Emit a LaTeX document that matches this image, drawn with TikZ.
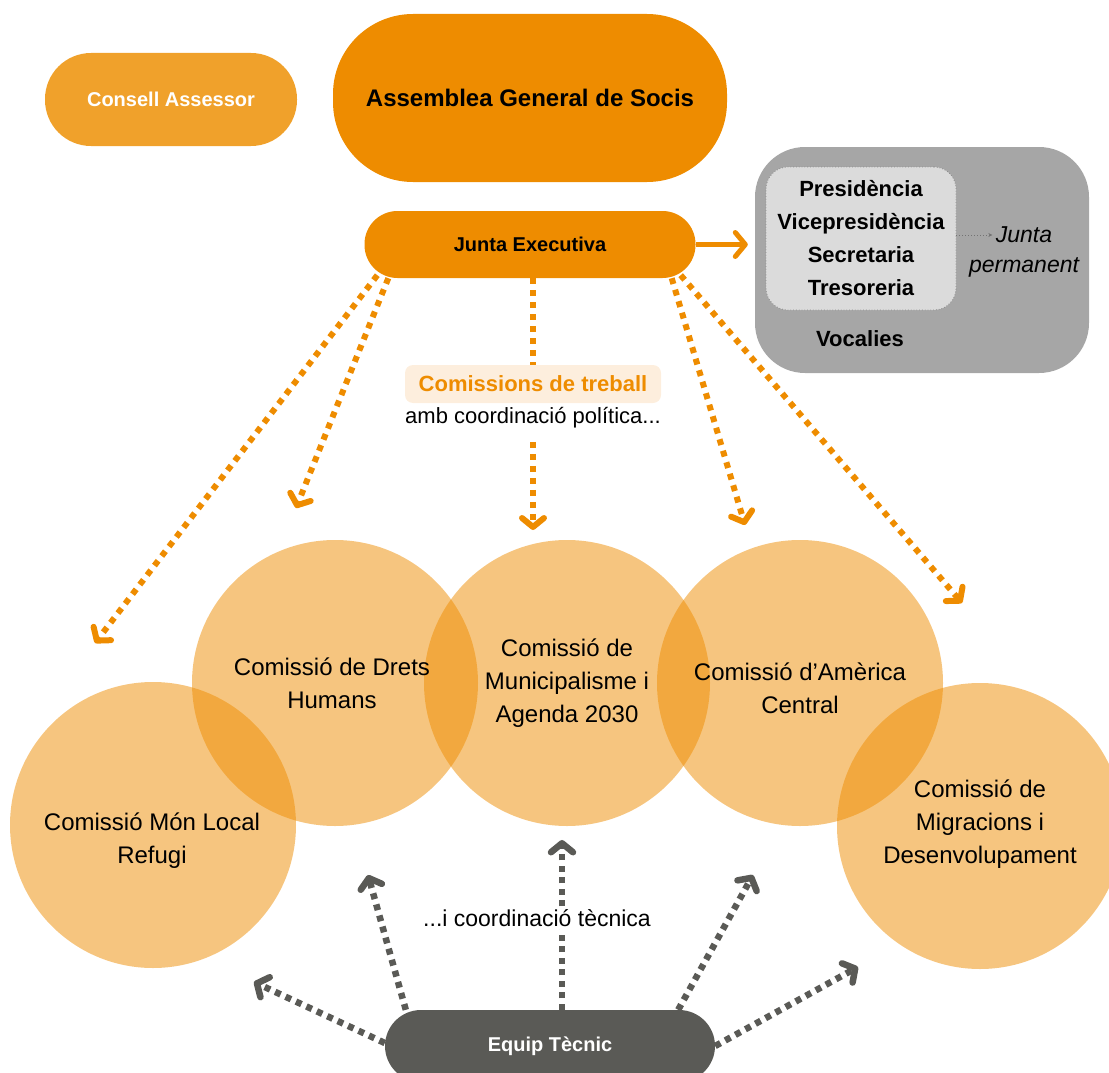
\documentclass[tikz,border=0pt]{standalone}
\usepackage{fontspec}
\setmainfont{Liberation Sans}
\usetikzlibrary{arrows.meta,calc}
\definecolor{orA}{HTML}{EE8C00}
\definecolor{orB}{HTML}{F0A12B}
\definecolor{grBox}{HTML}{A6A6A6}
\definecolor{grIn}{HTML}{DBDBDB}
\definecolor{grDark}{HTML}{5A5A56}
\definecolor{orBg}{HTML}{FDEEDD}
\newcommand{\fsz}[2]{\fontsize{#1pt}{#2pt}\selectfont}
\begin{document}
\begin{tikzpicture}[x=1pt,y=-1pt,
  pill/.style={rectangle, inner sep=0pt, align=center},
  comm/.style={circle, minimum size=286pt, inner sep=0pt, fill=orA, fill opacity=0.5, draw=none},
  ctext/.style={align=center, font=\fsz{24}{33}, text=black},
  otip/.style={-{Straight Barb[length=9pt,width=22pt,line cap=round,round]}},
  odot/.style={orA, line width=6pt, dash pattern=on 6pt off 6pt},
  gdot/.style={grDark, line width=6.5pt, dash pattern=on 6pt off 5.5pt, -{Straight Barb[length=9pt,width=22pt,line cap=round,round]}},
]
\useasboundingbox (0,0) rectangle (1109,1073);

% circles
\node[comm] (c1) at (153,825) {};
\node[comm] (c2) at (335,683) {};
\node[comm] (c3) at (567,683) {};
\node[comm] (c4) at (800,683) {};
\node[comm] (c5) at (980,826) {};
\node[ctext] (t1) at (152,841) {Comissió Món Local\\Refugi};
\node[ctext] (t2) at (332,683) {Comissió de Drets\\Humans};
\node[ctext] (t3) at (567,683) {Comissió de\\Municipalisme i\\Agenda 2030};
\node[ctext] (t4) at (800,688) {Comissió d’Amèrica\\Central};
\node[ctext] (t5) at (980,824) {Comissió de\\Migracions i\\Desenvolupament};

% top boxes
\node[pill, minimum width=252pt, minimum height=93pt, rounded corners=46pt, fill=orB, text=white, font=\bfseries\fsz{20}{24}] (consell) at (171,99.5) {Consell Assessor};
\node[pill, minimum width=394pt, minimum height=168pt, rounded corners=80pt, fill=orA, text=black, font=\bfseries\fsz{24}{29}] (assemblea) at (530,98) {Assemblea General de Socis};
\node[pill, minimum width=331pt, minimum height=67pt, rounded corners=33pt, fill=orA, text=black, font=\bfseries\fsz{20}{24}] (junta) at (530,244.5) {Junta Executiva};

% gray box
\node[pill, minimum width=334pt, minimum height=226pt, rounded corners=50pt, fill=grBox] (vocal) at (922,260) {};
\node[pill, minimum width=190pt, minimum height=143pt, rounded corners=22pt, fill=grIn, draw=black!45, dotted, line width=0.8pt, font=\bfseries\fsz{22}{33}] (perm) at (861,238.5) {Presidència\\Vicepresidència\\Secretaria\\Tresoreria};
\node[font=\itshape\fsz{23}{32}] (jt) at (1024,235) {Junta};
\node[font=\itshape\fsz{23}{32}] (jp) at (1024,267) {permanent};
\node[font=\bfseries\fsz{22}{28}] (voc) at (860,339) {Vocalies};
\draw[black!55, dotted, line width=1pt, -{Stealth[length=4pt,width=4pt]}] (perm.east |- jt.west) -- (jt.west);

\draw[orA, line width=5pt, -{Straight Barb[length=10pt,width=24pt,line cap=round,round]}, shorten >=7pt] (junta.east) -- (junta.east -| vocal.west);

% orange dotted arrows
\coordinate (o1) at (95,643);
\coordinate (o2) at (296,508);
\coordinate (o3) at (533,530);
\coordinate (o4) at (745,525);
\coordinate (o5) at (962,603);
\node[pill, fill=orBg, rounded corners=8pt, minimum width=256pt, minimum height=38pt, text=orA, font=\bfseries\fsz{22}{26}] (ctreb) at (533,384) {Comissions de treball};
\node[font=\fsz{22}{26}] (amb) at (533,418) {amb coordinació política...};
\draw[odot, otip] ([xshift=13pt,yshift=3pt]junta.south west) -- (o1);
\draw[odot, otip] ([xshift=24pt]junta.south west) -- (o2);
\draw[odot] (junta.south -| ctreb.north) -- (ctreb.north);
\draw[odot, otip, shorten <=10pt] (amb.south) -- (o3);
\draw[odot, otip] ([xshift=-24pt]junta.south east) -- (o4);
\draw[odot, otip] ([xshift=-15pt,yshift=3pt]junta.south east) -- (o5);

% equip tecnic
\node[pill, minimum width=330pt, minimum height=72pt, rounded corners=36pt, fill=grDark, text=white, font=\bfseries\fsz{20}{24}] (equip) at (550,1046) {Equip Tècnic};
\coordinate (g1) at (254,982);
\coordinate (g2) at (368,875);
\coordinate (g3) at (562,840);
\coordinate (g4) at (753,875);
\coordinate (g5) at (858,967);
\draw[gdot] ([yshift=3pt]equip.west) -- (g1);
\draw[gdot] ([xshift=21pt]equip.north west) -- (g2);
\draw[gdot] ([xshift=12pt]equip.north) -- (g3);
\draw[gdot] ([xshift=-37pt]equip.north east) -- (g4);
\draw[gdot] (equip.east) -- (g5);
\node[fill=white, inner sep=2pt, font=\fsz{23}{27}] (tec) at (537,918) {...i coordinació tècnica};
\end{tikzpicture}
\end{document}
